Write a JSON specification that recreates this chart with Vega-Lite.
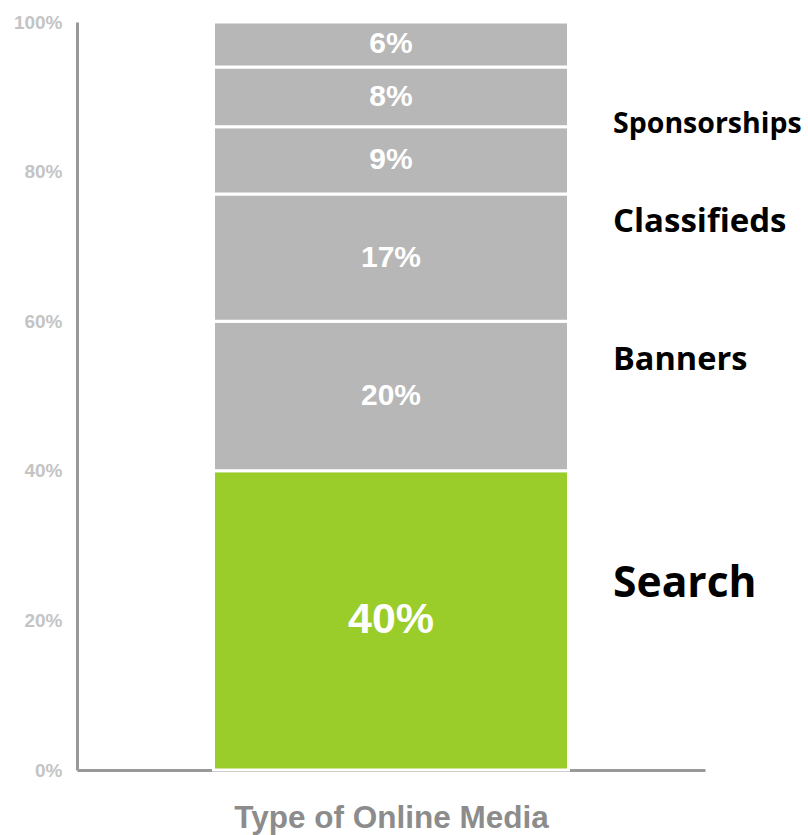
{
  "$schema": "https://vega.github.io/schema/vega-lite/v6.json",
  "width": 628,
  "height": 748,
  "autosize": {"type": "none"},
  "padding": {"left": 77, "top": 22, "right": 103, "bottom": 65},
  "background": "white",
  "config": {"view": {"stroke": null}},
  "data": {
    "values": [
      {"group": "Type of Online Media", "media": "Search", "value": 40, "rank": 1, "pct": "40%", "label": "Search"},
      {"group": "Type of Online Media", "media": "Banners", "value": 20, "rank": 2, "pct": "20%", "label": "Banners"},
      {"group": "Type of Online Media", "media": "Classifieds", "value": 17, "rank": 3, "pct": "17%", "label": "Classifieds"},
      {"group": "Type of Online Media", "media": "Sponsorships", "value": 9, "rank": 4, "pct": "9%", "label": "Sponsorships"},
      {"group": "Type of Online Media", "media": "Other A", "value": 8, "rank": 5, "pct": "8%", "label": ""},
      {"group": "Type of Online Media", "media": "Other B", "value": 6, "rank": 6, "pct": "6%", "label": ""}
    ]
  },
  "encoding": {
    "x": {
      "field": "group",
      "type": "nominal",
      "scale": {"paddingInner": 0, "paddingOuter": 0.3845},
      "axis": {
        "title": "Type of Online Media",
        "labels": false,
        "ticks": false,
        "domainColor": "#999999",
        "domainWidth": 3,
        "titleFont": "Liberation Sans",
        "titleFontSize": 31.5,
        "titleFontWeight": "bold",
        "titleColor": "#8c8c8c",
        "titlePadding": 32
      }
    },
    "order": {"field": "rank", "type": "quantitative"}
  },
  "layer": [
    {
      "mark": {"type": "bar", "stroke": "white", "strokeWidth": 3},
      "encoding": {
        "y": {
          "field": "value",
          "type": "quantitative",
          "stack": "zero",
          "scale": {"domain": [0, 100]},
          "axis": {
            "title": null,
            "values": [0, 20, 40, 60, 80, 100],
            "labelExpr": "datum.value + '%'",
            "grid": false,
            "ticks": false,
            "domainColor": "#999999",
            "domainWidth": 3,
            "labelFont": "Liberation Sans",
            "labelFontSize": 19,
            "labelFontWeight": "bold",
            "labelColor": "#c4c4c4",
            "labelPadding": 15
          }
        },
        "color": {
          "field": "media",
          "type": "nominal",
          "scale": {
            "domain": ["Search", "Banners", "Classifieds", "Sponsorships", "Other A", "Other B"],
            "range": ["#9acd2a", "#b7b7b7", "#b7b7b7", "#b7b7b7", "#b7b7b7", "#b7b7b7"]
          },
          "legend": null
        }
      }
    },
    {
      "mark": {"type": "text", "color": "white", "font": "Liberation Sans", "fontWeight": "bold", "baseline": "middle"},
      "encoding": {
        "y": {"field": "value", "type": "quantitative", "stack": "zero", "bandPosition": 0.5},
        "text": {"field": "pct"},
        "size": {
          "condition": {"test": "datum.media === 'Search'", "value": 43},
          "value": 30
        }
      }
    },
    {
      "mark": {"type": "text", "color": "black", "font": "Open Sans", "fontWeight": "bold", "baseline": "middle", "align": "left", "dx": 222, "dy": -36},
      "encoding": {
        "y": {"field": "value", "type": "quantitative", "stack": "zero", "bandPosition": 0.5},
        "text": {"field": "label"},
        "size": {
          "condition": [
            {"test": "datum.media === 'Search'", "value": 42.6},
            {"test": "datum.media === 'Sponsorships'", "value": 28.5},
            {"test": "datum.media === 'Classifieds'", "value": 33}
          ],
          "value": 32.5
        }
      }
    }
  ]
}
